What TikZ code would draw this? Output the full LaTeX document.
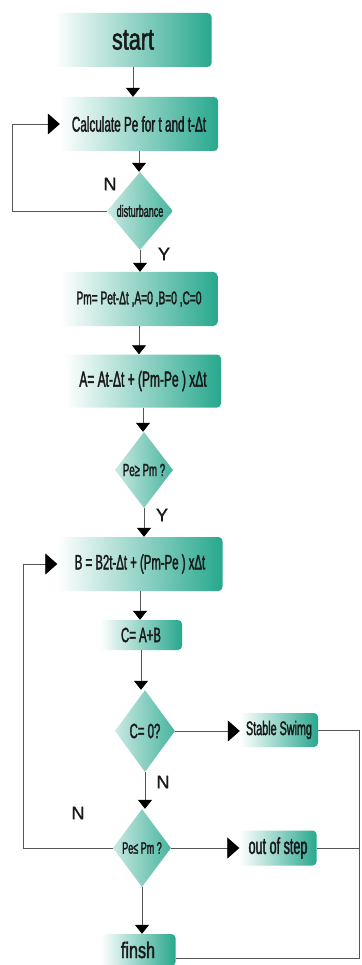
\documentclass[tikz,border=0pt]{standalone}
\usepackage{fontspec}
\setmainfont{Liberation Sans}
\newfontfamily\cf[FakeStretch=0.55,FakeBold=1.6]{Liberation Sans}
\newfontfamily\cfw[FakeStretch=0.72,FakeBold=1.6]{Liberation Sans}
\newfontfamily\lbf[FakeBold=1.4]{Liberation Sans}
\usetikzlibrary{shapes.geometric,arrows.meta}
\definecolor{tl}{RGB}{40,168,142}
\definecolor{ln}{RGB}{85,85,85}
\newcommand{\mytx}[2]{{\cf\fontsize{#1}{#1}\selectfont #2}}
\newcommand{\mytw}[2]{{\cfw\fontsize{#1}{#1}\selectfont #2}}
\newcommand{\myzt}[2]{\makebox[0pt]{\cf\fontsize{#1}{#1}\selectfont #2}}
\begin{document}
\begin{tikzpicture}[x=1pt,y=-1pt,
  box/.style={rectangle, rounded corners=4pt, inner sep=0pt, left color=white, middle color=tl!65!white, right color=tl, text=black!90},
  dia/.style={diamond, inner sep=0pt, left color=tl!25!white, right color=tl!85!white, text=black!90},
  conn/.style={draw=ln, line width=0.8pt},
  varr/.style={conn, -{Triangle[length=9pt,width=14pt,color=black]}},
  harr/.style={conn, -{Triangle[length=12pt,width=21pt,color=black]}},
  lab/.style={inner sep=0pt, font=\lbf\fontsize{18}{18}\selectfont, text=black!90}
]
\useasboundingbox (0,0) rectangle (361,965);
\fill[white] (0,0) rectangle (361,965);

\node[box, minimum width=157pt, minimum height=54pt] (start) at (133,40) {\mytw{30}{start}};
\node[box, minimum width=158pt, minimum height=54pt] (calc) at (139,124) {\mytx{21.3}{Calculate Pe for t and t-Δt}};
\node[dia, minimum width=66pt, minimum height=78pt] (dist) at (140,211) {\myzt{16.4}{disturbance}};
\node[box, minimum width=157pt, minimum height=54pt] (pm) at (139,299) {\mytx{18.5}{Pm= Pet-Δt ,A=0 ,B=0 ,C=0}};
\node[box, minimum width=156pt, minimum height=53pt] (aa) at (143,381) {\mytx{21.8}{A= At-Δt + (Pm-Pe ) xΔt}};
\node[dia, minimum width=58pt, minimum height=76pt] (ge) at (144,470) {\myzt{17.5}{Pe≥ Pm ?}};
\node[box, minimum width=165pt, minimum height=54pt] (bb) at (140,564) {\mytx{20.7}{B = B2t-Δt + (Pm-Pe ) xΔt}};
\node[box, minimum width=82pt, minimum height=30pt] (cc) at (141,635) {\mytx{20.7}{C= A+B}};
\node[dia, minimum width=60pt, minimum height=82pt] (czero) at (145,731) {\myzt{20.7}{C= 0?}};
\node[box, minimum width=78pt, minimum height=34pt] (ss) at (279,730) {\mytx{19.6}{Stable Swimg}};
\node[dia, minimum width=58pt, minimum height=78pt] (le) at (142,848) {\myzt{16.4}{Pe≤ Pm ?}};
\node[box, minimum width=77pt, minimum height=35pt] (oos) at (278,848) {\mytx{22.9}{out of step}};
\node[box, minimum width=75pt, minimum height=32pt] (fin) at (138,950) {\mytw{22.5}{finsh}};

\node[lab] (n1) at (110,184) {N};
\node[lab] (y1) at (164,254) {Y};
\node[lab] (y2) at (162,515) {Y};
\node[lab] (n2) at (163,782) {N};
\node[lab] (n3) at (78,813) {N};

\coordinate (l1) at (12,0);
\coordinate (l2) at (23,0);
\coordinate (rc) at (359,958);

\draw[varr] (start.south) -- (start.south |- calc.north);
\draw[varr] (calc.south) -- (calc.south |- dist.north);
\draw[varr] (dist.south) -- (dist.south |- pm.north);
\draw[varr] (pm.south) -- (pm.south |- aa.north);
\draw[varr] (aa.south) -- (aa.south |- ge.north);
\draw[varr] (ge.south) -- (ge.south |- bb.north);
\draw[varr] (bb.south) -- (bb.south |- cc.north);
\draw[varr] (cc.south) -- (cc.south |- czero.north);
\draw[varr] (czero.south) -- (czero.south |- le.north);
\draw[varr] (le.south) -- (le.south |- fin.north);

\draw[harr] (dist.west) -| (l1 |- calc.west) -- (calc.west);
\draw[harr] (le.west) -| (l2 |- bb.west) -- (bb.west);
\draw[harr] (czero.east) -- (czero.east -| ss.west);
\draw[harr] (le.east) -- (le.east -| oos.west);

\draw[conn] (ss.east) -| (rc) -- (rc -| fin.east);
\draw[conn] (oos.east) -- (oos.east -| rc);
\end{tikzpicture}
\end{document}
